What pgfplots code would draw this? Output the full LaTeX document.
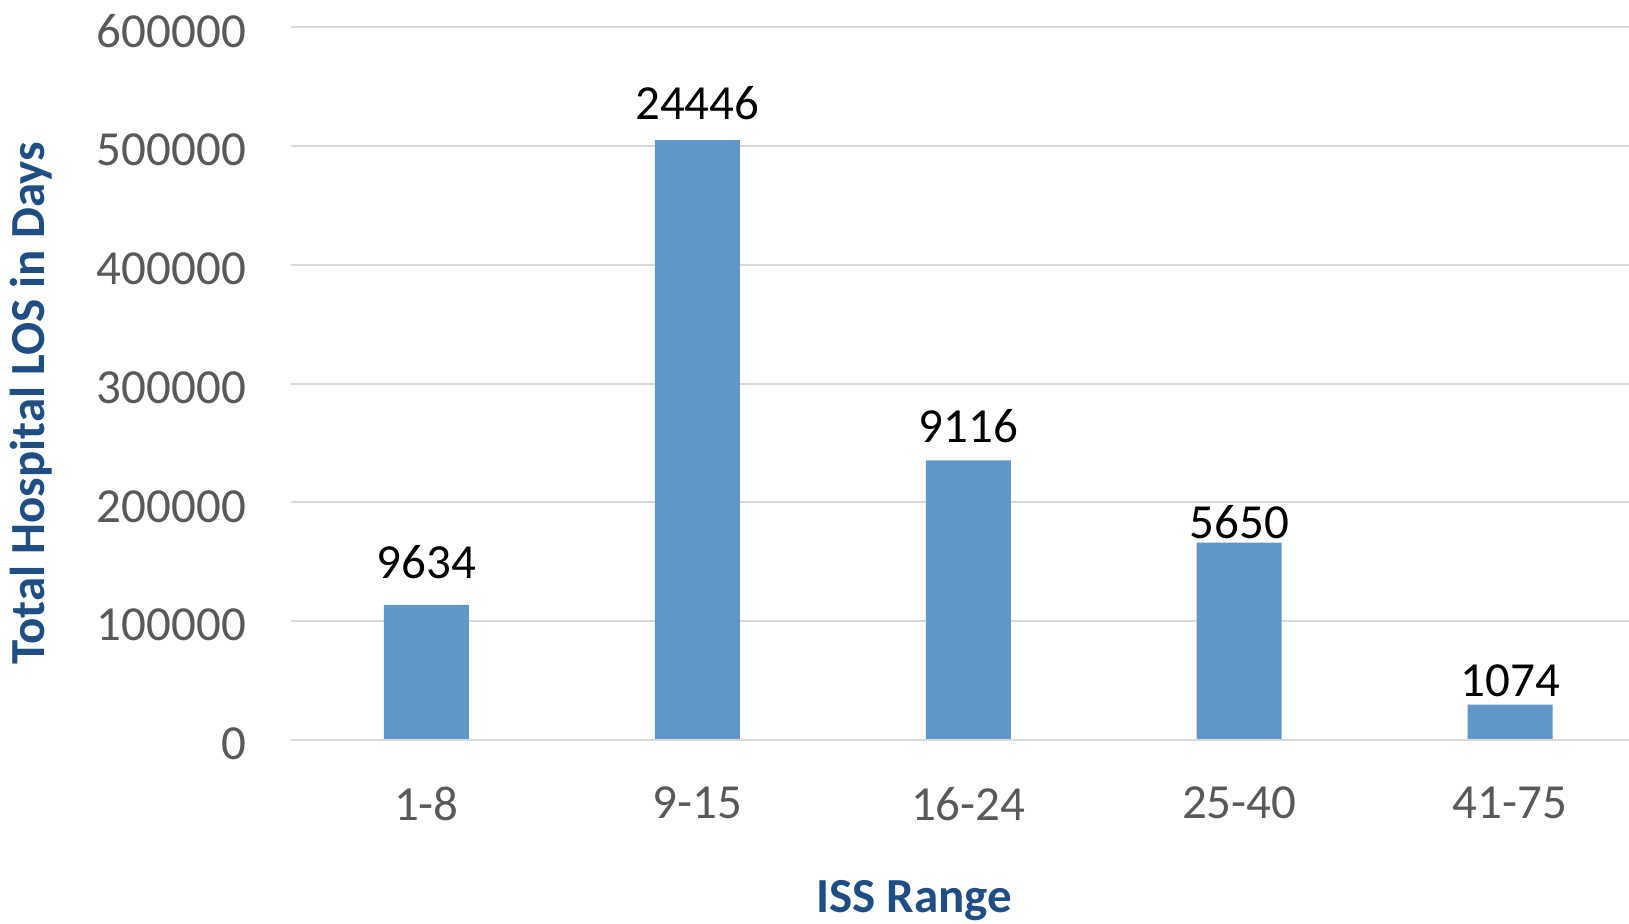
\documentclass[border=0pt]{standalone}
\usepackage{pgfplots}
\pgfplotsset{compat=1.18}
\usepackage{fontspec}
\setmainfont{Carlito}
\definecolor{barc}{HTML}{6196C8}
\definecolor{titc}{HTML}{1F4E85}
\definecolor{tickc}{HTML}{595959}
\definecolor{gridc}{HTML}{D9D9D9}
\begin{document}
\begin{tikzpicture}
\path[use as bounding box] (-145.5pt,-91.5pt) rectangle (669pt,370pt);
\begin{axis}[
  at={(0,0)}, anchor=south west,
  scale only axis,
  width=677.3pt, height=356.5pt,
  xmin=-0.5, xmax=4.5,
  ymin=0, ymax=600000,
  ytick={0,100000,...,600000},
  scaled y ticks=false,
  /pgf/number format/.cd, fixed, 1000 sep={}, assume math mode=true,
  /pgfplots/.cd,
  xtick=data,
  xticklabels={1-8,9-15,16-24,25-40,41-75},
  axis line style={draw=none},
  major tick length=0pt,
  ymajorgrids, grid style={gridc, line width=1pt},
  ticklabel style={font=\fontsize{24.5}{29}\selectfont, text=tickc},
  yticklabel style={xshift=-19pt, yshift=-2pt},
  xticklabel style={yshift=-20pt},
  xlabel={\textbf{ISS Range}},
  ylabel={\textbf{Total Hospital LOS in Days}},
  label style={font=\fontsize{24.5}{29}\selectfont, text=titc},
  xlabel style={at={([xshift=-27pt,yshift=-80.5pt]axis description cs:0.5,0)}, anchor=center},
  ylabel style={at={([xshift=-130pt,yshift=-10pt]axis description cs:0,0.5)}, anchor=center},
  clip=false,
]
\addplot[ybar, bar width=42.5pt, fill=barc, draw=none,
  nodes near coords={\pgfmathprintnumber{\myl}},
  visualization depends on={\thisrow{lab} \as \myl},
  visualization depends on={\thisrow{dy} \as \mydy},
  every node near coord/.append style={font=\fontsize{24.5}{29}\selectfont, text=black, /pgf/number format/fixed, /pgf/number format/1000 sep={}, anchor=south, yshift=\mydy pt}]
  table[x=x, y=y] {
x y lab dy
0 113700 9634 9.6
1 504800 24446 6.5
2 235300 9116 5
3 166200 5650 -1.8
4 29700 1074 0.2
};
\draw[gridc, line width=1pt] (axis cs:-0.5,0) -- (axis cs:4.5,0);
\end{axis}
\end{tikzpicture}
\end{document}
